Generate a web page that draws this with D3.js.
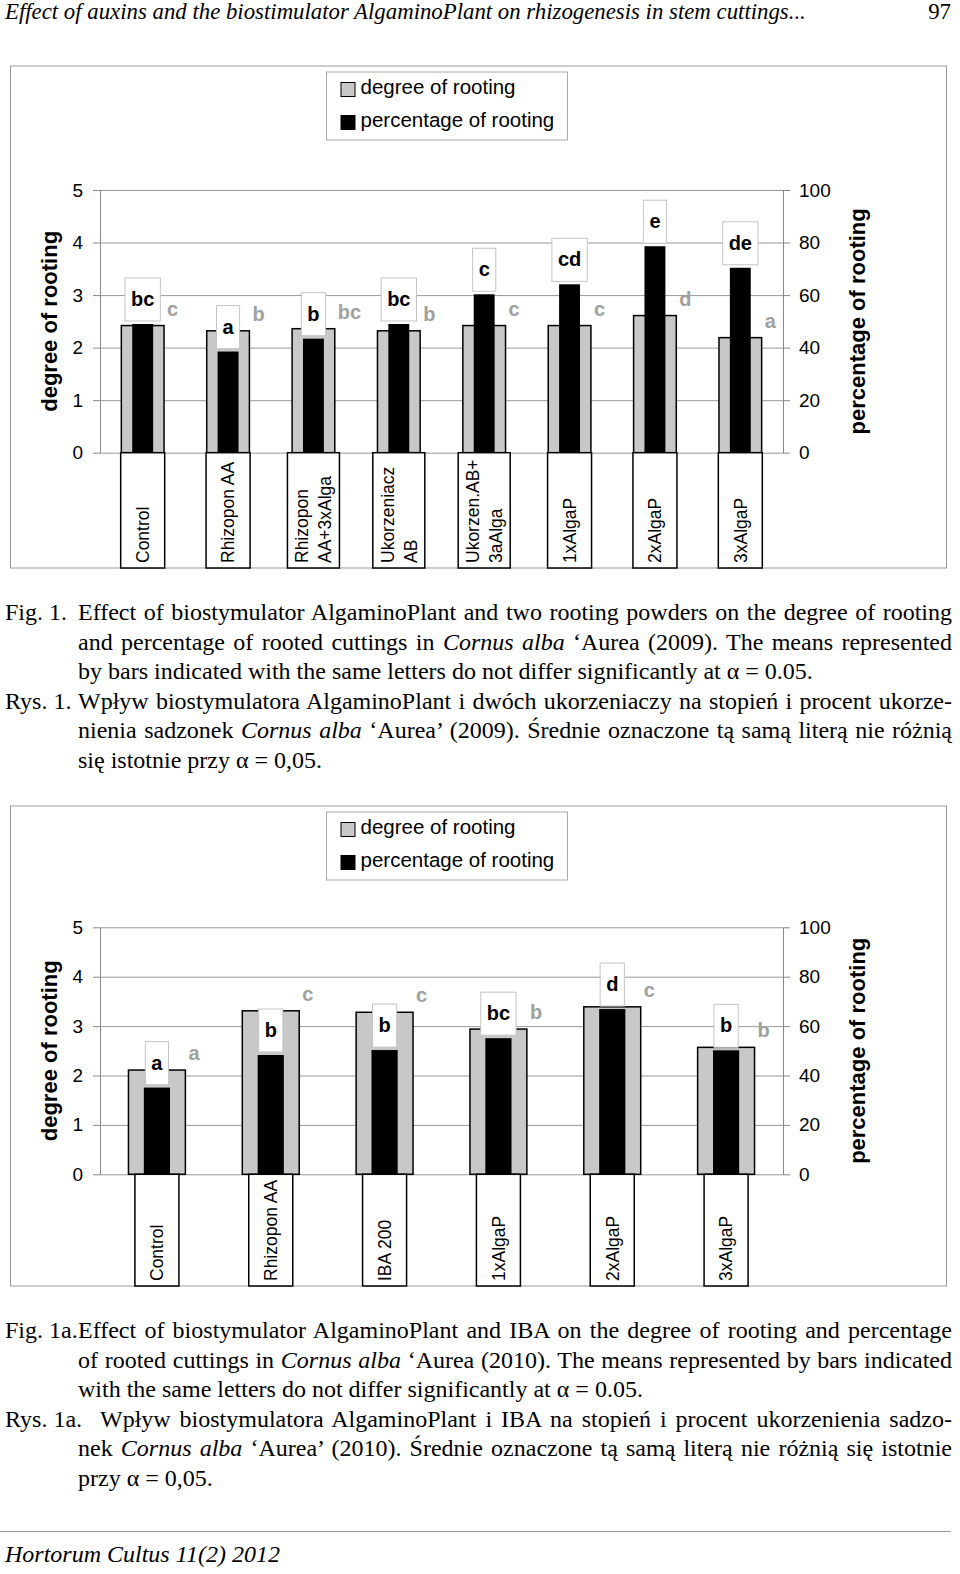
<!DOCTYPE html>
<html>
<head>
<meta charset="utf-8">
<script src="https://cdn.jsdelivr.net/npm/d3@7"></script>
<style>
  body { margin: 0; background: #fff; }
  svg { display: block; }
</style>
</head>
<body>
<svg id="page" width="960" height="1574"></svg>
<script>
// ---- data ----
const cats1 = [["Control"], ["Rhizopon AA"], ["Rhizopon", "AA+3xAlga"], ["Ukorzeniacz", "AB"],
  ["Ukorzen.AB+", "3aAlga"], ["1xAlgaP"], ["2xAlgaP"], ["3xAlgaP"]];
const degree1 = [2.42, 2.32, 2.36, 2.32, 2.42, 2.42, 2.61, 2.19];
const percent1 = [49.0, 38.5, 43.4, 49.0, 60.3, 64.1, 78.6, 70.4];
const pctLetters1 = ["bc", "a", "b", "bc", "c", "cd", "e", "de"];
const degLetters1 = ["c", "b", "bc", "b", "c", "c", "d", "a"];

const cats2 = [["Control"], ["Rhizopon AA"], ["IBA 200"], ["1xAlgaP"], ["2xAlgaP"], ["3xAlgaP"]];
const degree2 = [2.11, 3.31, 3.28, 2.94, 3.39, 2.57];
const percent2 = [35.1, 48.3, 50.3, 55.1, 66.9, 50.2];
const pctLetters2 = ["a", "b", "b", "bc", "d", "b"];
const degLetters2 = ["a", "c", "c", "b", "c", "b"];

const degTicks = [0, 1, 2, 3, 4, 5];
const pctTicks = [0, 20, 40, 60, 80, 100];
const legendLabels = ["degree of rooting", "percentage of rooting"];
const yTitles = ["degree of rooting", "percentage of rooting"];

const SANS = "'Liberation Sans', Arial, sans-serif";
const SERIF = "'Liberation Serif', 'Times New Roman', serif";
const GRAY = "#c8c8c8";

const svg = d3.select("#page");

function drawChart(cfg) {
  const g = svg.append("g").attr("font-family", SANS);
  const left = 100, right = 783;

  // outer frame
  g.append("rect")
    .attr("x", 10.5).attr("y", cfg.top)
    .attr("width", 936).attr("height", cfg.bottom - cfg.top)
    .attr("fill", "none").attr("stroke", "#999");

  // legend
  const lg = g.append("g").attr("transform", `translate(326.5,${cfg.top + 6})`);
  lg.append("rect").attr("width", 241).attr("height", 68)
    .attr("fill", "#fff").attr("stroke", "#aaa");
  legendLabels.forEach((lab, i) => {
    lg.append("rect").attr("x", 14.5).attr("y", 10.5 + i * 33).attr("width", 14).attr("height", 14)
      .attr("fill", i === 0 ? GRAY : "#000").attr("stroke", "#000");
    lg.append("text").attr("x", 34).attr("y", 22 + i * 32.5)
      .attr("font-size", 20.5).text(lab);
  });

  const x = d3.scaleBand().domain(d3.range(cfg.cats.length)).range([left, right]);
  const yDeg = d3.scaleLinear().domain([0, 5]).range([cfg.y0, cfg.y5]);
  const yPct = d3.scaleLinear().domain([0, 100]).range([cfg.y0, cfg.y5]);
  const bw = x.bandwidth();
  const grayW = bw * 0.5, blackW = bw * cfg.blackRatio;

  // gridlines
  g.append("g").attr("transform", `translate(${left},0)`)
    .call(d3.axisLeft(yDeg).tickValues(degTicks).tickSize(-(right - left)).tickFormat(""))
    .call(s => s.select(".domain").remove())
    .call(s => s.selectAll("line").attr("stroke", "#999"));

  // bars
  const bars = g.append("g").selectAll("g").data(cfg.cats).join("g")
    .attr("transform", (d, i) => `translate(${x(i) + bw / 2},0)`);
  bars.append("rect")
    .attr("x", -grayW / 2).attr("width", grayW)
    .attr("y", (d, i) => yDeg(cfg.deg[i]))
    .attr("height", (d, i) => cfg.y0 - yDeg(cfg.deg[i]))
    .attr("fill", GRAY).attr("stroke", "#000").attr("stroke-width", 1.5);
  bars.append("rect")
    .attr("x", -blackW / 2).attr("width", blackW)
    .attr("y", (d, i) => yPct(cfg.pct[i]))
    .attr("height", (d, i) => cfg.y0 - yPct(cfg.pct[i]))
    .attr("fill", "#000");

  // axes
  const axL = g.append("g").attr("transform", `translate(${left},0)`)
    .call(d3.axisLeft(yDeg).tickValues(degTicks).tickFormat(d3.format("d"))
      .tickSize(7).tickSizeOuter(0).tickPadding(10));
  const axR = g.append("g").attr("transform", `translate(${right},0)`)
    .call(d3.axisRight(yPct).tickValues(pctTicks).tickSize(7).tickSizeOuter(0).tickPadding(9));
  [axL, axR].forEach(a => {
    a.select(".domain").attr("stroke", "#888");
    a.selectAll(".tick line").attr("stroke", "#888");
    a.selectAll(".tick text").attr("font-size", 19).attr("font-family", SANS).attr("fill", "#000");
  });

  // axis titles
  const mid = (cfg.y0 + cfg.y5) / 2;
  g.append("text").attr("transform", `translate(57,${mid}) rotate(-90)`)
    .attr("text-anchor", "middle").attr("font-size", 22).attr("font-weight", "bold")
    .text(yTitles[0]);
  g.append("text").attr("transform", `translate(865,${mid}) rotate(-90)`)
    .attr("text-anchor", "middle").attr("font-size", 22).attr("font-weight", "bold")
    .text(yTitles[1]);

  // category label boxes
  const cl = g.append("g").selectAll("g").data(cfg.cats).join("g")
    .attr("transform", (d, i) => `translate(${x(i) + bw / 2},0)`);
  cl.append("rect")
    .attr("x", d => -(d.length === 1 ? 44 : 52) / 2)
    .attr("width", d => d.length === 1 ? 44 : 52)
    .attr("y", cfg.y0).attr("height", cfg.bottom - cfg.y0)
    .attr("fill", "#fff").attr("stroke", "#000").attr("stroke-width", 1.5);
  cl.append("text")
    .attr("transform", `translate(0,${cfg.bottom - 5}) rotate(-90)`)
    .attr("font-size", 17.5)
    .selectAll("tspan").data(d => d.map((t, j) => ({ t, j, n: d.length }))).join("tspan")
    .attr("x", 0)
    .attr("y", d => (d.j - (d.n - 1) / 2) * 23)
    .attr("dy", "0.36em")
    .text(d => d.t);

  // significance letters: percentage (boxed, black) and degree (grey)
  cfg.pctLetters.forEach((lt, i) => {
    const cx = x(i) + bw / 2;
    const gg = g.append("g");
    const box = gg.append("rect");
    const t = gg.append("text").attr("x", cx).attr("text-anchor", "middle")
      .attr("font-size", 20).attr("font-weight", "bold").text(lt);
    const w = t.node().getComputedTextLength() + 12;
    const bottom = yPct(cfg.pct[i]) - 3;
    box.attr("x", cx - w / 2).attr("y", bottom - 43).attr("width", w).attr("height", 43)
      .attr("fill", "#fff").attr("stroke", "#c4c4c4");
    t.attr("y", bottom - 15);
  });
  cfg.degLetters.forEach((lt, i) => {
    const cx = x(i) + bw / 2;
    g.append("text").attr("x", cx + grayW / 2 + 3).attr("y", yDeg(cfg.deg[i]) - 10)
      .attr("font-size", 20).attr("font-weight", "bold").attr("fill", "#a0a0a0").text(lt);
  });
}

drawChart({ cats: cats1, deg: degree1, pct: percent1, pctLetters: pctLetters1, degLetters: degLetters1,
  top: 66, bottom: 568, y5: 190, y0: 452.7, blackRatio: 0.245 });
drawChart({ cats: cats2, deg: degree2, pct: percent2, pctLetters: pctLetters2, degLetters: degLetters2,
  top: 806, bottom: 1286, y5: 927.3, y0: 1174.3, blackRatio: 0.23 });

// ---- page text ----
const page = svg.append("g").attr("font-family", SERIF).attr("font-size", 24);
page.append("text").attr("x", 5).attr("y", 19).attr("font-style", "italic").attr("font-size", 22.8)
  .text("Effect of auxins and the biostimulator AlgaminoPlant on rhizogenesis in stem cuttings...");
page.append("text").attr("x", 951).attr("y", 19).attr("text-anchor", "end").attr("font-size", 22.8).text("97");

const cap1 = [
  ["Fig. 1.", 78, [["Effect of biostymulator AlgaminoPlant and two rooting powders on the degree of rooting"]], true],
  [null, 78, [["and percentage of rooted cuttings in "], ["Cornus alba", 1], [" \u2018Aurea (2009). The means represented"]], true],
  [null, 78, [["by bars indicated with the same letters do not differ significantly at \u03b1 = 0.05."]], false],
  ["Rys. 1.", 78, [["Wpływ biostymulatora AlgaminoPlant i dwóch ukorzeniaczy na stopień i procent ukorze-"]], true],
  [null, 78, [["nienia sadzonek "], ["Cornus alba", 1], [" \u2018Aurea\u2019 (2009). Średnie oznaczone tą samą literą nie różnią"]], true],
  [null, 78, [["się istotnie przy \u03b1 = 0,05."]], false]
];
const cap2 = [
  ["Fig. 1a.", 78, [["Effect of biostymulator AlgaminoPlant and IBA on the degree of rooting and percentage"]], true],
  [null, 78, [["of rooted cuttings in "], ["Cornus alba", 1], [" \u2018Aurea (2010). The means represented by bars indicated"]], true],
  [null, 78, [["with the same letters do not differ significantly at \u03b1 = 0.05."]], false],
  ["Rys. 1a.", 100, [["Wpływ biostymulatora AlgaminoPlant i IBA na stopień i procent ukorzenienia sadzo-"]], true],
  [null, 78, [["nek "], ["Cornus alba", 1], [" \u2018Aurea\u2019 (2010). Średnie oznaczone tą samą literą nie różnią się istotnie"]], true],
  [null, 78, [["przy \u03b1 = 0,05."]], false]
];

function caption(lines, y0) {
  lines.forEach((ln, i) => {
    const y = y0 + i * 29.5;
    if (ln[0]) page.append("text").attr("x", 5).attr("y", y).text(ln[0]);
    const t = page.append("text").attr("x", ln[1]).attr("y", y);
    ln[2].forEach(seg => t.append("tspan").attr("font-style", seg[1] ? "italic" : null).text(seg[0]));
    if (ln[3]) {
      const full = ln[2].map(s => s[0]).join("");
      const spaces = (full.match(/ /g) || []).length;
      const nat = t.node().getComputedTextLength();
      t.attr("word-spacing", (952 - ln[1] - nat) / spaces);
    }
  });
}
caption(cap1, 620);
caption(cap2, 1338);

svg.append("line").attr("x1", 0).attr("x2", 951).attr("y1", 1531.5).attr("y2", 1531.5)
  .attr("stroke", "#999").attr("stroke-width", 1.2);
page.append("text").attr("x", 5).attr("y", 1562).attr("font-style", "italic")
  .text("Hortorum Cultus 11(2) 2012");
</script>
</body>
</html>
